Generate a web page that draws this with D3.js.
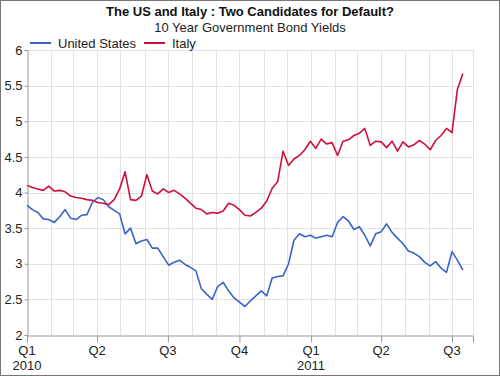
<!DOCTYPE html>
<html>
<head>
<meta charset="utf-8">
<script src="https://cdn.jsdelivr.net/npm/d3@7"></script>
<style>
  body { margin: 0; background: #fff; }
  svg { display: block; font-family: "Liberation Sans", Arial, sans-serif; }
</style>
</head>
<body>
<div id="chart"></div>
<script>
var width = 500,
    height = 376;

// weekly observations (Fridays)
var dates = [
  "2010-01-01","2010-01-08","2010-01-15","2010-01-22","2010-01-29",
  "2010-02-05","2010-02-12","2010-02-19","2010-02-26",
  "2010-03-05","2010-03-12","2010-03-19","2010-03-26",
  "2010-04-02","2010-04-09","2010-04-16","2010-04-23","2010-04-30",
  "2010-05-07","2010-05-14","2010-05-21","2010-05-28",
  "2010-06-04","2010-06-11","2010-06-18","2010-06-25",
  "2010-07-02","2010-07-09","2010-07-16","2010-07-23","2010-07-30",
  "2010-08-06","2010-08-13","2010-08-20","2010-08-27",
  "2010-09-03","2010-09-10","2010-09-17","2010-09-24",
  "2010-10-01","2010-10-08","2010-10-15","2010-10-22","2010-10-29",
  "2010-11-05","2010-11-12","2010-11-19","2010-11-26",
  "2010-12-03","2010-12-10","2010-12-17","2010-12-24","2010-12-31",
  "2011-01-07","2011-01-14","2011-01-21","2011-01-28",
  "2011-02-04","2011-02-11","2011-02-18","2011-02-25",
  "2011-03-04","2011-03-11","2011-03-18","2011-03-25",
  "2011-04-01","2011-04-08","2011-04-15","2011-04-22","2011-04-29",
  "2011-05-06","2011-05-13","2011-05-20","2011-05-27",
  "2011-06-03","2011-06-10","2011-06-17","2011-06-24",
  "2011-07-01","2011-07-08","2011-07-15"
];

var us = [
  3.82,3.76,3.72,3.63,3.62, 3.58,3.66,3.76,3.64, 3.62,3.68,3.69,3.86,
  3.93,3.90,3.80,3.75,3.70, 3.42,3.50,3.28,3.32, 3.34,3.22,3.22,3.10,
  2.98,3.02,3.05,2.99,2.95, 2.90,2.65,2.57,2.50, 2.68,2.74,2.62,2.52,
  2.46,2.40,2.48,2.55,2.62, 2.55,2.80,2.82,2.83, 3.00,3.33,3.42,3.38,3.40,
  3.36,3.38,3.40,3.38, 3.58,3.66,3.60,3.48, 3.52,3.40,3.25,3.42,
  3.45,3.56,3.44,3.36,3.28, 3.18,3.15,3.10,3.02, 2.97,3.03,2.94,2.88,
  3.17,3.05,2.91
];

var italy = [
  4.10,4.07,4.05,4.03,4.09, 4.02,4.03,4.01,3.95, 3.93,3.92,3.90,3.89,
  3.86,3.85,3.83,3.90,4.05, 4.29,3.90,3.89,3.95, 4.25,4.02,3.98,4.05,
  4.00,4.03,3.98,3.92,3.85, 3.78,3.76,3.70,3.72, 3.71,3.74,3.85,3.82,
  3.76,3.68,3.67,3.72,3.78, 3.88,4.06,4.15,4.58, 4.38,4.47,4.52,4.60,4.72,
  4.62,4.75,4.68,4.70, 4.52,4.72,4.74,4.80, 4.83,4.90,4.66,4.72,
  4.71,4.63,4.72,4.58,4.71, 4.64,4.67,4.73,4.68, 4.60,4.73,4.80,4.90,
  4.84,5.45,5.67
];

var seriesNames = ["United States", "Italy"],
    seriesColors = ["#3a63c8", "#d0103c"];

var yTicks = [2, 2.5, 3, 3.5, 4, 4.5, 5, 5.5, 6];
var quarterTicks = ["2010-01-01","2010-04-01","2010-07-01","2010-10-01",
                    "2011-01-01","2011-04-01","2011-07-01"];
var quarterLabels = ["Q1","Q2","Q3","Q4","Q1","Q2","Q3"];
var yearLabels = ["2010","","","","2011","",""];

var parse = d3.timeParse("%Y-%m-%d");
var dateObjs = dates.map(parse);

var plotLeft = 27, plotRight = 473, plotTop = 50, plotBottom = 335;

var x = d3.scaleTime()
    .domain([parse("2010-01-01"), parse("2011-07-28")])
    .range([plotLeft, plotRight]);

var y = d3.scaleLinear()
    .domain([2, 6])
    .range([plotBottom, plotTop]);

var svg = d3.select("#chart").append("svg")
    .attr("width", width)
    .attr("height", height);

svg.append("rect")
    .attr("x", 0.5).attr("y", 0.5)
    .attr("width", width - 1).attr("height", height - 1)
    .attr("fill", "#fff").attr("stroke", "#777");

// grid
var months = d3.timeMonth.range(parse("2010-02-01"), x.domain()[1]);
svg.append("g").selectAll("line")
    .data(months)
    .enter().append("line")
    .attr("x1", function(d){ return Math.round(x(d)) + 0.5; })
    .attr("x2", function(d){ return Math.round(x(d)) + 0.5; })
    .attr("y1", plotTop).attr("y2", plotBottom)
    .attr("stroke", "#e2e2e2");

svg.append("g").selectAll("line")
    .data(yTicks.slice(1))
    .enter().append("line")
    .attr("x1", plotLeft).attr("x2", plotRight)
    .attr("y1", function(d){ return Math.round(y(d)) + 0.5; })
    .attr("y2", function(d){ return Math.round(y(d)) + 0.5; })
    .attr("stroke", "#e2e2e2");

svg.append("line")
    .attr("x1", plotRight + 0.5).attr("x2", plotRight + 0.5)
    .attr("y1", plotTop).attr("y2", plotBottom)
    .attr("stroke", "#e2e2e2");

// y axis
var yAxis = svg.append("g")
    .attr("transform", "translate(" + (plotLeft + 0.5) + ",0)")
    .call(d3.axisLeft(y).tickValues(yTicks).tickSize(3).tickPadding(2)
        .tickFormat(d3.format("")));
yAxis.select(".domain").attr("stroke", "#999");
yAxis.selectAll(".tick line").attr("stroke", "#999");
yAxis.selectAll("text")
    .attr("font-size", 13)
    .attr("font-family", "Liberation Sans, Arial, sans-serif")
    .attr("fill", "#222");

// x axis
var xAxis = svg.append("g")
    .attr("transform", "translate(0," + (plotBottom + 0.5) + ")")
    .call(d3.axisBottom(x).tickValues(quarterTicks.map(parse)).tickSize(7)
        .tickFormat(""));
xAxis.select(".domain").attr("stroke", "#999");
xAxis.selectAll(".tick line").attr("stroke", "#999");

var xl = svg.append("g")
    .attr("font-size", 13)
    .attr("fill", "#222")
    .attr("text-anchor", "middle");
quarterTicks.forEach(function(d, i){
    var px = x(parse(d));
    xl.append("text").attr("x", px).attr("y", 355).text(quarterLabels[i]);
    if (yearLabels[i]) {
        xl.append("text").attr("x", px).attr("y", 370).text(yearLabels[i]);
    }
});

// lines
var line = d3.line()
    .x(function(d, i){ return x(dateObjs[i]); })
    .y(function(d){ return y(d); });

[us, italy].forEach(function(s, k){
    svg.append("path")
        .datum(s)
        .attr("d", line)
        .attr("fill", "none")
        .attr("stroke", seriesColors[k])
        .attr("stroke-width", 1.6)
        .attr("stroke-linejoin", "round");
});

// titles
svg.append("text")
    .attr("x", 250).attr("y", 16)
    .attr("text-anchor", "middle")
    .attr("font-size", 13)
    .attr("font-weight", "bold")
    .attr("fill", "#111")
    .text("The US and Italy : Two Candidates for Default?");

svg.append("text")
    .attr("x", 250).attr("y", 32)
    .attr("text-anchor", "middle")
    .attr("font-size", 13)
    .attr("fill", "#222")
    .text("10 Year Government Bond Yields");

// legend
var legendX = [30, 144];
seriesNames.forEach(function(name, k){
    svg.append("line")
        .attr("x1", legendX[k]).attr("x2", legendX[k] + 21)
        .attr("y1", 43).attr("y2", 43)
        .attr("stroke", seriesColors[k])
        .attr("stroke-width", 2);
    svg.append("text")
        .attr("x", legendX[k] + 28).attr("y", 48)
        .attr("font-size", 13)
        .attr("fill", "#222")
        .text(name);
});
</script>
</body>
</html>
